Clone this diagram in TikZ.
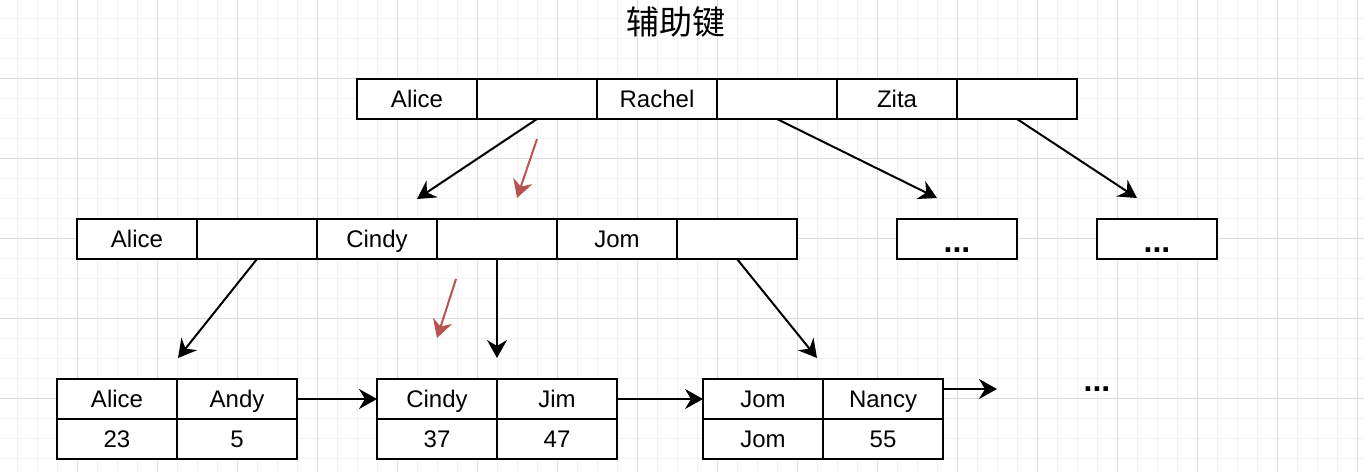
\documentclass[tikz,border=0pt]{standalone}
\usepackage{fontspec}
\setmainfont{Liberation Sans}
\newfontfamily\cjk{Noto Sans CJK SC}
\usetikzlibrary{positioning,arrows.meta}
\definecolor{gridminor}{HTML}{F3F3F3}
\definecolor{gridmajor}{HTML}{DCDCDC}
\definecolor{hint}{HTML}{B85450}

\begin{document}
\begin{tikzpicture}[x=0.5pt,y=-0.5pt]
\tikzstyle{every node}+=[inner sep=0pt,outer sep=0pt]
\tikzstyle{cell}=[draw=black,fill=white,line width=1pt,minimum width=60pt,minimum height=20pt,text height=8.6pt,text depth=0pt,font=\fontsize{12}{14}\selectfont]
\tikzstyle{dots}=[cell,font=\bfseries\fontsize{16}{16}\selectfont,text height=13pt]
\tikzstyle{link}=[draw=black,line width=1pt,-{Stealth[length=9pt,width=10pt,inset=3pt]}]
\tikzstyle{hintlink}=[link,draw=hint]
\useasboundingbox (0,0) rectangle (1364,472);
% background grid
\foreach \x in {17,37,...,1357} \draw[gridminor,line width=0.5pt] (\x,0) -- (\x,472);
\foreach \y in {18,38,...,458} \draw[gridminor,line width=0.5pt] (0,\y) -- (1364,\y);
\foreach \x in {77,157,...,1357} \draw[gridmajor,line width=0.5pt] (\x,0) -- (\x,472);
\foreach \y in {78,158,...,398} \draw[gridmajor,line width=0.5pt] (0,\y) -- (1364,\y);
\node[font=\cjk\fontsize{16.5}{16.5}\selectfont] (title) at (676,22) {辅助键};
% root
\node[cell] (r1) at (417,99) {Alice};
\node[cell,right=0pt of r1] (r2) {};
\node[cell,right=0pt of r2] (r3) {Rachel};
\node[cell,right=0pt of r3] (r4) {};
\node[cell,right=0pt of r4] (r5) {Zita};
\node[cell,right=0pt of r5] (r6) {};
% second level
\node[cell] (m1) at (137,239) {Alice};
\node[cell,right=0pt of m1] (m2) {};
\node[cell,right=0pt of m2] (m3) {Cindy};
\node[cell,right=0pt of m3] (m4) {};
\node[cell,right=0pt of m4] (m5) {Jom};
\node[cell,right=0pt of m5] (m6) {};
\node[dots] (d1) at (957,239) {...};
\node[dots] (d2) at (1157,239) {...};
% leaves
\node[cell] (a1) at (117,399) {Alice};
\node[cell,right=0pt of a1] (a2) {Andy};
\node[cell,below=0pt of a1] (a3) {23};
\node[cell,below=0pt of a2] (a4) {5};
\node[cell] (b1) at (437,399) {Cindy};
\node[cell,right=0pt of b1] (b2) {Jim};
\node[cell,below=0pt of b1] (b3) {37};
\node[cell,below=0pt of b2] (b4) {47};
\node[cell] (c1) at (763,399) {Jom};
\node[cell,right=0pt of c1] (c2) {Nancy};
\node[cell,below=0pt of c1] (c3) {Jom};
\node[cell,below=0pt of c2] (c4) {55};
\node[font=\bfseries\fontsize{16}{16}\selectfont] (more) at (1097,389) {...};
% arrow ends
\coordinate (e1) at (417,199);
\coordinate (e2) at (937,198);
\coordinate (e3) at (1137,198);
\coordinate (e4) at (178,358);
\coordinate (e5) at (497,358);
\coordinate (e6) at (817,358);
\coordinate (e7) at (997,389);
\coordinate (h1) at (537,139);
\coordinate (h2) at (517,198);
\coordinate (h3) at (456,279);
\coordinate (h4) at (437,338);
\draw[link] (r2.south) -- (e1);
\draw[link] (r4.south) -- (e2);
\draw[link] (r6.south) -- (e3);
\draw[link] (m2.south) -- (e4);
\draw[link] (m4.south) -- (e5);
\draw[link] (m6.south) -- (e6);
\draw[link] (a2.east) -- (b1.west);
\draw[link] (b2.east) -- (c1.west);
\draw[link] ([yshift=5pt]c2.east) -- (e7);
\draw[hintlink] (h1) -- (h2);
\draw[hintlink] (h3) -- (h4);
\end{tikzpicture}
\end{document}
